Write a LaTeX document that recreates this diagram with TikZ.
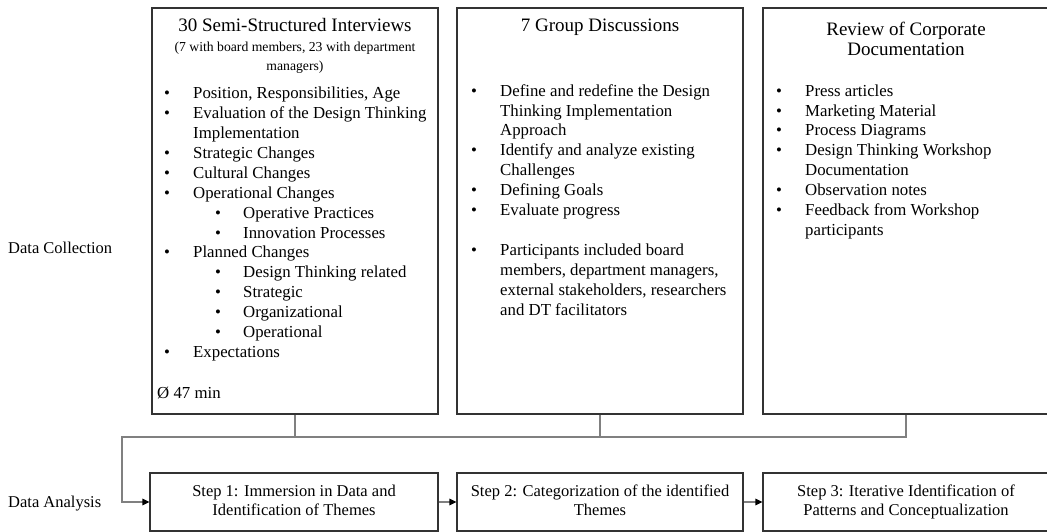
\documentclass[tikz,border=0pt]{standalone}
\usepackage{fontspec}
\setmainfont{Liberation Serif}
\usetikzlibrary{arrows.meta}
\newcommand{\itb}{\makebox[29pt][l]{\textbullet}}
\newcommand{\sitb}{\hspace*{51pt}\makebox[28pt][l]{\textbullet}}
\newcommand{\indt}{\hspace*{29pt}}
\begin{document}
\begin{tikzpicture}[x=1pt,y=-1pt,
  box/.style={draw=black!80, line width=1.1pt, inner sep=0pt},
  conn/.style={draw=black!50, line width=1.1pt},
  arr/.style={conn, -{Triangle[length=7pt,width=6.5pt,color=black]}},
  body/.style={anchor=north west, inner sep=0pt, align=left, font=\fontsize{16.8}{19.9}\selectfont},
  ttl/.style={inner sep=0pt, font=\fontsize{19}{20}\selectfont},
  lbl/.style={anchor=base west, inner sep=0pt, font=\fontsize{16.5}{19.9}\selectfont},
  stepbox/.style={box, align=center, minimum height=58pt, font=\fontsize{16.5}{19.9}\selectfont}]
\clip (0,0) rectangle (1047,532);
\useasboundingbox (0,0) rectangle (1047,532);
% collection boxes
\node[box, minimum width=286pt, minimum height=406pt] (b1) at (295,211) {};
\node[box, minimum width=286pt, minimum height=406pt] (b2) at (600,211) {};
\node[box, minimum width=286pt, minimum height=406pt] (b3) at (906,211) {};
% titles
\node[ttl, anchor=base] (t1) at (295,32) {30 Semi-Structured Interviews};
\node[inner sep=0pt, anchor=north, align=center, font=\fontsize{13.7}{19}\selectfont] (t1s) at (295,37.7)
  {\strut(7 with board members, 23 with department\\managers)};
\node[ttl, anchor=base] (t2) at (600,32) {7 Group Discussions};
\node[ttl, anchor=north, align=center] (t3) at (906,21.5) {\strut Review of Corporate\\Documentation};
% bodies
\node[body] (p1) at (164,84.6) {\strut\itb Position, Responsibilities, Age\\
\itb Evaluation of the Design Thinking\\
\indt Implementation\\
\itb Strategic Changes\\
\itb Cultural Changes\\
\itb Operational Changes\\
\sitb Operative Practices\\
\sitb Innovation Processes\\
\itb Planned Changes\\
\sitb Design Thinking related\\
\sitb Strategic\\
\sitb Organizational\\
\sitb Operational\\
\itb Expectations};
\node[lbl, font=\fontsize{16.8}{19.9}\selectfont] (p1b) at (157,398) {Ø 47 min};
\node[body] (p2) at (471,82) {\strut\itb Define and redefine the Design\\
\indt Thinking Implementation\\
\indt Approach\\
\itb Identify and analyze existing\\
\indt Challenges\\
\itb Defining Goals\\
\itb Evaluate progress\\
\strut\\
\itb Participants included board\\
\indt members, department managers,\\
\indt external stakeholders, researchers\\
\indt and DT facilitators};
\node[body] (p3) at (776,82) {\strut\itb Press articles\\
\itb Marketing Material\\
\itb Process Diagrams\\
\itb Design Thinking Workshop\\
\indt Documentation\\
\itb Observation notes\\
\itb Feedback from Workshop\\
\indt participants};
% side labels
\node[lbl] (dc) at (8,253) {Data Collection};
\node[lbl] (da) at (8,507) {Data Analysis};
% step boxes
\node[stepbox, minimum width=288pt] (s1) at (294,502) {\strut Step 1: Immersion in Data and\\Identification of Themes\strut};
\node[stepbox, minimum width=286pt] (s2) at (600,502) {\strut Step 2: Categorization of the identified\\Themes\strut};
\node[stepbox, minimum width=286pt] (s3) at (906,502) {\strut Step 3: Iterative Identification of\\Patterns and Conceptualization\strut};
% connectors
\coordinate (hl) at (122,437);
\draw[conn] (b1.south) -- (b1.south |- hl);
\draw[conn] (b2.south) -- (b2.south |- hl);
\draw[arr] (b3.south) |- (hl) |- (s1.west);
\draw[arr] (s1.east) -- (s2.west);
\draw[arr] (s2.east) -- (s3.west);
\end{tikzpicture}
\end{document}
